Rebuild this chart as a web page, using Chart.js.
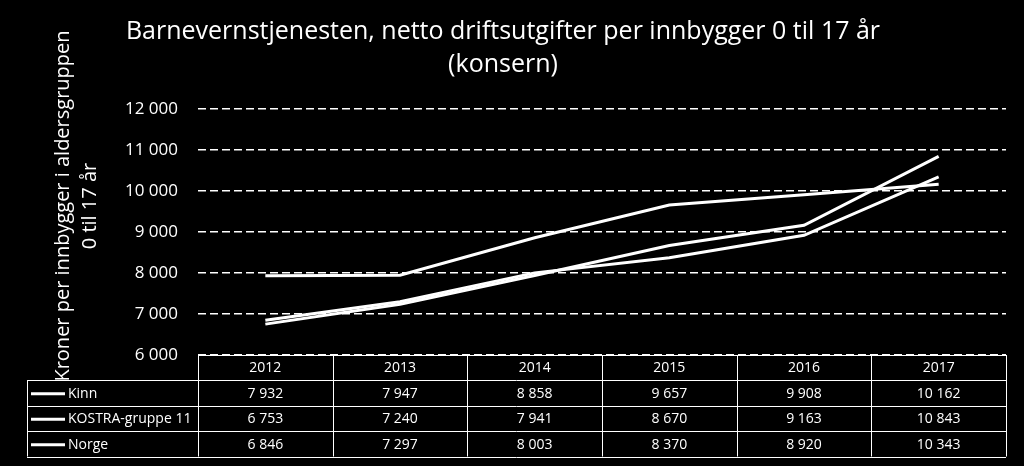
<!DOCTYPE html>
<html>
<head>
<meta charset="utf-8">
<script src="https://cdn.jsdelivr.net/npm/chart.js@4"></script>
<style>
  html, body { margin: 0; padding: 0; background: #000; }
  #wrap { width: 1024px; height: 466px; }
</style>
</head>
<body>
<div id="wrap"><canvas id="chart" width="1024" height="466"></canvas></div>
<script>
// Données du graphique
const years = ['2012', '2013', '2014', '2015', '2016', '2017'];
const seriesNames = ['Kinn', 'KOSTRA-gruppe 11', 'Norge'];
const kinn = [7932, 7947, 8858, 9657, 9908, 10162];
const kostra11 = [6753, 7240, 7941, 8670, 9163, 10843];
const norge = [6846, 7297, 8003, 8370, 8920, 10343];
const yTicks = [6000, 7000, 8000, 9000, 10000, 11000, 12000];
const yTitle = ['Kroner per innbygger i aldersgruppen', '0 til 17 år'];

const FONT = '"Open Sans", sans-serif';

// Format "12 000"
function fmt(v) {
    return String(v).replace(/\B(?=(\d{3})+(?!\d))/g, ' ');
}

// Tableau de données sous le graphique
const dataTable = {
    id: 'dataTable',
    afterDraw(chart) {
        const ctx = chart.ctx;
        const x = chart.scales.x;
        const area = chart.chartArea;
        const rows = [kinn, kostra11, norge];
        const headH = 25, rowH = 25.5;
        const left = 27;
        const colW = (area.right - area.left) / years.length;
        const top = area.bottom;
        const bottom = top + headH + rowH * rows.length;

        ctx.save();
        ctx.strokeStyle = '#fff';
        ctx.lineWidth = 1;
        ctx.fillStyle = '#fff';
        ctx.font = '14px ' + FONT;
        ctx.textBaseline = 'middle';

        // lignes horizontales
        ctx.beginPath();
        ctx.moveTo(area.left, top + 0.5);
        ctx.lineTo(area.right, top + 0.5);
        for (let r = 0; r <= rows.length; r++) {
            const y = Math.round(top + headH + r * rowH) + 0.5;
            ctx.moveTo(left, y);
            ctx.lineTo(area.right, y);
        }
        // lignes verticales
        ctx.moveTo(left + 0.5, top + headH);
        ctx.lineTo(left + 0.5, bottom);
        for (let c = 0; c <= years.length; c++) {
            const xx = Math.round(area.left + c * colW) + 0.5;
            ctx.moveTo(xx, top);
            ctx.lineTo(xx, bottom);
        }
        ctx.stroke();

        // en-têtes
        ctx.textAlign = 'center';
        years.forEach((yr, i) => {
            ctx.fillText(yr, x.getPixelForValue(i), top + headH / 2 + 1);
        });

        // lignes de séries
        rows.forEach((vals, r) => {
            const cy = top + headH + r * rowH + rowH / 2 + 1;
            ctx.lineWidth = 3;
            ctx.beginPath();
            ctx.moveTo(31, cy);
            ctx.lineTo(65, cy);
            ctx.stroke();
            ctx.textAlign = 'left';
            ctx.fillText(seriesNames[r], 68, cy);
            ctx.textAlign = 'center';
            vals.forEach((v, i) => {
                ctx.fillText(fmt(v), x.getPixelForValue(i), cy);
            });
        });

        // titre de l'axe y (deux lignes, pivoté)
        ctx.font = '20px ' + FONT;
        ctx.textAlign = 'center';
        ctx.translate(76, 206);
        ctx.rotate(-Math.PI / 2);
        ctx.fillText(yTitle[0], 0, -13);
        ctx.fillText(yTitle[1], 0, 14);
        ctx.restore();
    }
};

const bg = {
    id: 'bg',
    beforeDraw(chart) {
        const ctx = chart.ctx;
        ctx.save();
        ctx.fillStyle = '#000';
        ctx.fillRect(0, 0, chart.width, chart.height);
        ctx.restore();
    }
};

function line(label, data) {
    return {
        label: label,
        data: data,
        borderColor: '#fff',
        backgroundColor: '#fff',
        borderWidth: 3,
        pointRadius: 0,
        tension: 0
    };
}

new Chart(document.getElementById('chart'), {
    type: 'line',
    data: {
        labels: years,
        datasets: [
            line(seriesNames[0], kinn),
            line(seriesNames[1], kostra11),
            line(seriesNames[2], norge)
        ]
    },
    options: {
        responsive: false,
        animation: false,
        layout: { padding: { left: 0, right: 18, top: 0, bottom: 111 } },
        plugins: {
            legend: { display: false },
            tooltip: { enabled: false },
            title: {
                display: true,
                text: ['Barnevernstjenesten, netto driftsutgifter per innbygger 0 til 17 år', '(konsern)'],
                color: '#fff',
                font: { family: FONT, size: 25, weight: 'normal', lineHeight: 1.3 },
                padding: { top: 16, bottom: 28 }
            }
        },
        scales: {
            x: {
                display: false,
                offset: true
            },
            y: {
                min: 6000,
                max: 12000,
                afterFit(scale) { scale.width = 198; },
                afterBuildTicks(scale) { scale.ticks = yTicks.map(v => ({ value: v })); },
                border: { display: false, dash: [8, 4] },
                grid: {
                    color: '#fff',
                    lineWidth: 1.5,
                    drawTicks: false
                },
                ticks: {
                    color: '#fff',
                    padding: 20,
                    font: { family: FONT, size: 17 },
                    callback: v => fmt(v)
                }
            }
        }
    },
    plugins: [bg, dataTable]
});
</script>
</body>
</html>
